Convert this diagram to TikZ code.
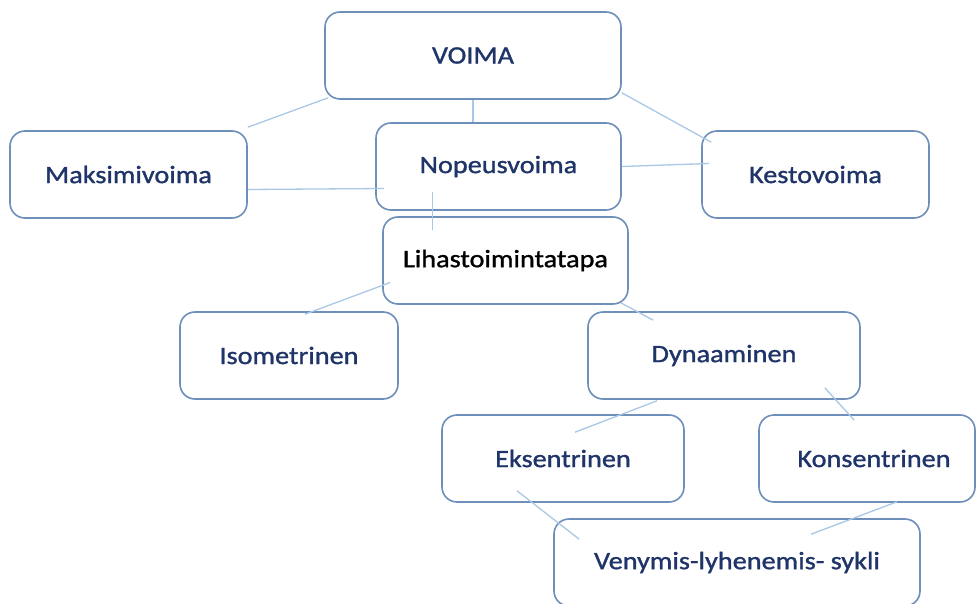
\documentclass[tikz,border=0pt]{standalone}
\usepackage{fontspec}
\setmainfont[FakeStretch=1.13,FakeBold=1.2]{Carlito}
\definecolor{boxline}{HTML}{6E8FBA}
\definecolor{textnavy}{HTML}{1F3468}
\definecolor{linkblue}{HTML}{A9C8E6}
\begin{document}
\begin{tikzpicture}[x=1pt,y=-1pt,
  box/.style={draw=boxline,line width=1.6pt,fill=white,rounded corners=15pt,
    inner sep=0pt,minimum height=87pt,text=textnavy,
    font=\fontsize{25}{30}\selectfont},
  link/.style={draw=linkblue,line width=1.3pt}]
\useasboundingbox (0,0) rectangle (977,604);
\node[box,minimum width=296pt] (voima) at (473,55.5) {VOIMA};
\node[box,minimum width=237pt] (maksimi) at (128.5,174.5) {Maksimivoima};
\node[box,minimum width=245pt] (nopeus) at (498.5,166.5) {Nopeusvoima};
\node[box,minimum width=227pt] (kesto) at (815.5,174.5) {Kestovoima};
\node[box,minimum width=245pt,text=black] (lihas) at (505.5,260.5) {Lihastoimintatapa};
\node[box,minimum width=218pt] (iso) at (289,355.5) {Isometrinen};
\node[box,minimum width=272pt] (dyn) at (724,355.5) {Dynaaminen};
\node[box,minimum width=242pt] (eks) at (563,458.5) {Eksentrinen};
\node[box,minimum width=216pt] (kons) at (867,458.5) {\hspace*{14pt}Konsentrinen};
\node[box,minimum width=366pt] (veny) at (737,562.5) {Venymis-lyhenemis- sykli};
\draw[link] ([xshift=4pt,yshift=2pt]voima.south west) -- ([yshift=3pt]maksimi.north east);
\draw[link] (voima.south) -- (voima.south |- nopeus.north);
\draw[link] ([yshift=7pt]voima.south east) -- ([xshift=10pt,yshift=-12pt]kesto.north west);
\draw[link] ([yshift=-15pt]maksimi.east) -- ([xshift=9pt,yshift=-22pt]nopeus.west);
\draw[link] (nopeus.east) -- ([xshift=8pt,yshift=11pt]kesto.west);
\draw[link] ([xshift=-66pt,yshift=-26pt]nopeus.center) -- ([xshift=-73pt,yshift=-14pt]lihas.north);
\draw[link] ([xshift=8pt,yshift=-22pt]lihas.west) -- ([xshift=16pt,yshift=-3pt]iso.north);
\draw[link] ([xshift=-8pt,yshift=2pt]lihas.south east) -- ([xshift=66pt,yshift=-9pt]dyn.north west);
\draw[link] ([xshift=-67pt,yshift=-1pt]dyn.south) -- ([xshift=12pt,yshift=-18pt]eks.north);
\draw[link] ([xshift=-36pt,yshift=12pt]dyn.south east) -- ([xshift=96pt,yshift=-6pt]kons.north west);
\draw[link] ([xshift=-46pt,yshift=12pt]eks.south) -- ([xshift=26pt,yshift=-21pt]veny.north west);
\draw[link] ([xshift=30pt,yshift=1pt]kons.south) -- ([xshift=74pt,yshift=-16pt]veny.north);
\end{tikzpicture}
\end{document}
